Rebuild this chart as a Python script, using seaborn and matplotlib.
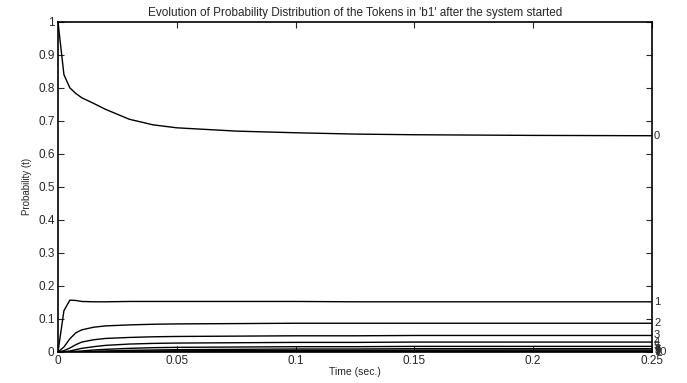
"""Token probability evolution in 'b1' after start."""

import matplotlib

matplotlib.use("Agg")
import matplotlib.pyplot as plt
import numpy as np
import pandas as pd
import seaborn as sns

# time samples (sec.)
time = [0, 0.0025, 0.005, 0.0075, 0.01, 0.015, 0.02, 0.03, 0.04, 0.05,
        0.075, 0.1, 0.125, 0.15, 0.2, 0.25]

# probability of k tokens in 'b1'
p0 = [1.0, 0.84, 0.80, 0.783, 0.77, 0.753, 0.735, 0.705, 0.688, 0.679,
      0.669, 0.664, 0.66, 0.658, 0.656, 0.655]
p1 = [0.0, 0.125, 0.157, 0.156, 0.153, 0.152, 0.152, 0.153, 0.153, 0.153,
      0.153, 0.153, 0.152, 0.152, 0.152, 0.152]
p2 = [0.0, 0.015, 0.04, 0.058, 0.067, 0.075, 0.079, 0.082, 0.084, 0.085,
      0.086, 0.087, 0.087, 0.087, 0.087, 0.087]
p3 = [0.0, 0.004, 0.012, 0.022, 0.03, 0.037, 0.041, 0.044, 0.046, 0.047,
      0.048, 0.049, 0.049, 0.05, 0.05, 0.05]
p4 = [0.0, 0.001, 0.003, 0.007, 0.011, 0.016, 0.02, 0.024, 0.026, 0.027,
      0.028, 0.029, 0.029, 0.03, 0.03, 0.03]
p5 = [0.0, 0.0, 0.001, 0.002, 0.003, 0.006, 0.008, 0.011, 0.013, 0.014,
      0.015, 0.016, 0.016, 0.017, 0.017, 0.017]
p6 = [0.0, 0.0, 0.0, 0.0005, 0.001, 0.002, 0.003, 0.005, 0.006, 0.007,
      0.008, 0.009, 0.009, 0.01, 0.01, 0.01]
p7 = [0.0, 0.0, 0.0, 0.0, 0.0003, 0.001, 0.0015, 0.0025, 0.003, 0.0035,
      0.004, 0.005, 0.005, 0.0055, 0.006, 0.006]
p8 = [0.0, 0.0, 0.0, 0.0, 0.0, 0.0003, 0.0006, 0.001, 0.0015, 0.0018,
      0.002, 0.0025, 0.0027, 0.003, 0.003, 0.003]
p9 = [0.0, 0.0, 0.0, 0.0, 0.0, 0.0, 0.0002, 0.0004, 0.0006, 0.0008,
      0.001, 0.0012, 0.0013, 0.0014, 0.0015, 0.0015]
p10 = [0.0, 0.0, 0.0, 0.0, 0.0, 0.0, 0.0, 0.0001, 0.0002, 0.0003,
       0.0004, 0.0004, 0.0005, 0.0005, 0.0005, 0.0005]

tokens = ["0", "1", "2", "3", "4", "5", "6", "7", "8", "9", "10"]
series = [p0, p1, p2, p3, p4, p5, p6, p7, p8, p9, p10]

x_ticks = [0, 0.05, 0.1, 0.15, 0.2, 0.25]
x_tick_labels = ["0", "0.05", "0.1", "0.15", "0.2", "0.25"]
y_ticks = [0, 0.1, 0.2, 0.3, 0.4, 0.5, 0.6, 0.7, 0.8, 0.9, 1.0]
y_tick_labels = ["0", "0.1", "0.2", "0.3", "0.4", "0.5", "0.6", "0.7",
                 "0.8", "0.9", "1"]

sns.set_style("ticks")
plt.rcParams["font.family"] = ["Liberation Sans", "DejaVu Sans"]

df = pd.DataFrame(
    {
        "time": np.tile(time, len(tokens)),
        "prob": np.concatenate(series),
        "token": np.repeat(tokens, len(time)),
    }
)

fig = plt.figure(figsize=(6.87, 3.83), dpi=100)
ax = fig.add_axes([0.0844, 0.081, 0.8646, 0.862])

sns.lineplot(
    data=df,
    x="time",
    y="prob",
    hue="token",
    palette=["black"] * len(tokens),
    linewidth=1.0,
    legend=False,
    ax=ax,
)

# token labels at the right end of each curve
for tok, vals in zip(tokens, series):
    ax.annotate(
        tok,
        xy=(time[-1], vals[-1]),
        xytext=(1.5, 0),
        textcoords="offset points",
        va="center",
        ha="left",
        fontsize=8,
        annotation_clip=False,
    )

ax.set_xlim(0, 0.25)
ax.set_ylim(0, 1)
ax.set_xticks(x_ticks)
ax.set_xticklabels(x_tick_labels)
ax.set_yticks(y_ticks)
ax.set_yticklabels(y_tick_labels)
ax.tick_params(direction="in", length=4, width=0.8, labelsize=8.5,
               top=True, right=True, pad=2.5)
for sp in ax.spines.values():
    sp.set_visible(True)
    sp.set_linewidth(1.2)
    sp.set_color("black")

ax.set_xlabel("Time (sec.)", fontsize=7.5, labelpad=0)
ax.set_ylabel("Probability (t)", fontsize=7, labelpad=4)
ax.set_title(
    "Evolution of Probability Distribution of the Tokens in 'b1' after the system started",
    fontsize=8.5,
    pad=4,
)

fig.savefig("out.png", dpi=100)
plt.close(fig)
